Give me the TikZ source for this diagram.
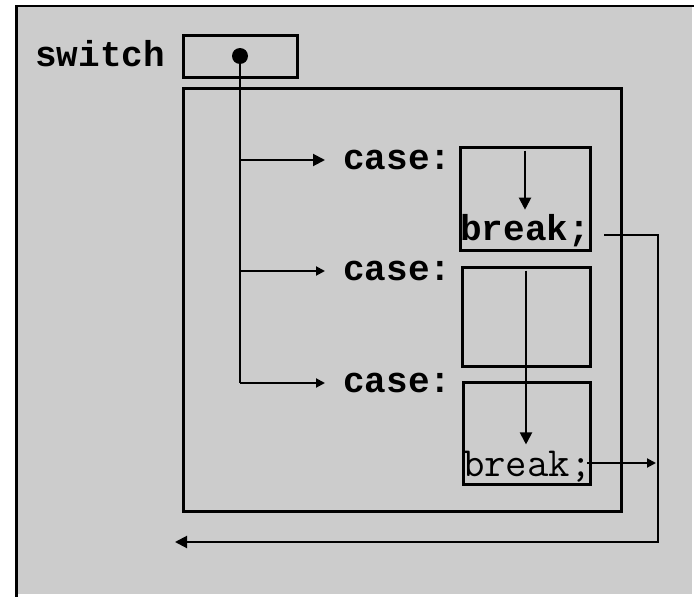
\documentclass[tikz,border=0pt]{standalone}
\usepackage{fontspec}
\newfontfamily\courfont{Liberation Mono}
\usetikzlibrary{arrows.meta}
\definecolor{bg}{RGB}{204,204,204}
\tikzset{
  boxs/.style={draw, line width=3pt, inner sep=0pt, rectangle},
  lbl/.style={inner sep=0pt, font=\fontsize{36}{39}\selectfont\courfont\bfseries},
  plain/.style={inner sep=0pt, font=\fontsize{41.5}{44}\selectfont\ttfamily},
  ln/.style={line width=2pt},
  arr/.style={line width=2pt, -{Triangle[length=12pt,width=12pt]}},
  arrs/.style={line width=2pt, -{Triangle[length=9pt,width=9pt]}}
}
\begin{document}
\begin{tikzpicture}[x=1pt,y=-1pt]
\useasboundingbox (0,0) rectangle (694,597);
\fill[bg] (17,6) rectangle (692,594);
\draw[line width=2pt] (15,6) -- (694,6);
\draw[line width=3pt] (16,5) -- (16,597);

% switch
\node[lbl, anchor=base west] (swl) at (35,66) {switch};
\node[boxs, minimum width=114pt, minimum height=42pt] (sw) at (240,56) {};
\node[circle, fill, inner sep=0pt, minimum size=16pt] (dot) at (240,56) {};

% big box
\node[boxs, minimum width=438pt, minimum height=423pt] (big) at (402,299.5) {};

% case boxes
\node[boxs, minimum width=130pt, minimum height=103pt] (bx1) at (525,198.5) {};
\node[boxs, minimum width=128pt, minimum height=99pt] (bx2) at (526,316.5) {};
\node[boxs, minimum width=127pt, minimum height=102pt] (bx3) at (526.5,433) {};

% case labels
\node[lbl, anchor=west] (c1) at (343,160) {case:};
\node[lbl, anchor=west] (c2) at (343,271) {case:};
\node[lbl, anchor=west] (c3) at (343,383) {case:};

% breaks
\node[lbl, anchor=base west] (b1) at (460,240) {break;};
\node[plain, anchor=base west] (b2) at (463,476) {break;};

% switch connectors
\draw[ln] (dot.center) -- (dot.center |- c3.west);
\draw[arr, shorten >=18pt] (dot.center |- c1.west) -- (c1.west);
\draw[arrs, shorten >=18pt] (dot.center |- c2.west) -- (c2.west);
\draw[arrs, shorten >=18pt] (dot.center |- c3.west) -- (c3.west);

% flow inside boxes
\draw[arr, shorten <=5pt, shorten >=4pt] (bx1.north) -- (bx1.north |- b1.north);
\draw[arr, shorten <=5pt, shorten >=6pt] (bx2.north) -- (bx2.north |- b2.north);

% break exits
\coordinate (r1) at (604,235);
\coordinate (rt) at (658,235);
\coordinate (rb) at (658,542);
\coordinate (out) at (175,542);
\draw[arr] (r1) -- (rt) -- (rb) -- (out);
\coordinate (r2) at (587,463);
\coordinate (r2e) at (656,463);
\draw[arrs] (r2) -- (r2e);
\end{tikzpicture}
\end{document}
